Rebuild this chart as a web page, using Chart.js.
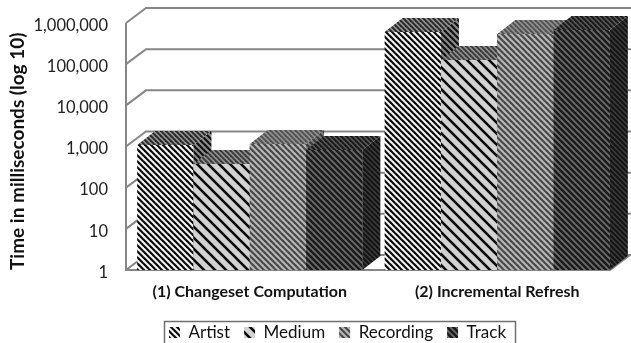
<!DOCTYPE html>
<html>
<head>
<meta charset="utf-8">
<script src="https://cdn.jsdelivr.net/npm/chart.js@4"></script>
<style>
html,body{margin:0;padding:0;background:#fff}
#wrap{position:relative;width:631px;height:343px}
</style>
</head>
<body>
<div id="wrap"><canvas id="c" width="631" height="343"></canvas></div>
<script>
const categories = ['(1) Changeset Computation', '(2) Incremental Refresh'];
const artist = [1090, 604000];
const medium = [376, 126000];
const recording = [1150, 539000];
const track = [822, 675000];
const tickValues = [1, 10, 100, 1000, 10000, 100000, 1000000];
const depthX = 18;
const depthY = 14;

// Diagonal hatch fill: one repeating tile of slanted stripes.
function hatch(period, stripe, bg, fg) {
  const t = document.createElement('canvas');
  t.width = period; t.height = period;
  const g = t.getContext('2d');
  g.fillStyle = bg; g.fillRect(0, 0, period, period);
  g.strokeStyle = fg; g.lineWidth = stripe; g.lineCap = 'square';
  for (let k = -1; k <= 1; k++) {
    g.beginPath();
    g.moveTo(k * period - 1, -1);
    g.lineTo(k * period + period + 1, period + 1);
    g.stroke();
  }
  return g.createPattern(t, 'repeat');
}
const ctx0 = document.getElementById('c').getContext('2d');
const fills = {
  Artist:    {front: hatch(6, 2.2, '#f6f6f6', '#0a0a0a'), top: hatch(5, 1.8, '#8f8f8f', '#262626'), side: hatch(6, 2.2, '#8c8c8c', '#101010')},
  Medium:    {front: hatch(11, 2.6, '#d2d2d2', '#0a0a0a'), top: hatch(5, 1.8, '#8f8f8f', '#383838'), side: hatch(6, 2.2, '#808080', '#2a2a2a')},
  Recording: {front: hatch(6, 2.2, '#b8b8b8', '#484848'), top: hatch(5, 1.8, '#909090', '#505050'), side: hatch(6, 2.2, '#7d7d7d', '#3a3a3a')},
  Track:     {front: hatch(6, 2.4, '#6c6c6c', '#1a1a1a'), top: hatch(5, 1.8, '#565656', '#161616'), side: hatch(5, 1.9, '#3a3a3a', '#121212')}
};

// Back wall, side wall and floor of the box, placed with the value scale.
const wallsPlugin = {
  id: 'walls',
  beforeDatasetsDraw(chart) {
    const g = chart.ctx, y = chart.scales.y, a = chart.chartArea;
    g.save();
    g.strokeStyle = '#868686'; g.lineWidth = 2;
    for (const v of tickValues) {
      const p = y.getPixelForValue(v);
      g.beginPath();
      g.moveTo(a.left, p);
      g.lineTo(a.left + 20, p - 15);
      g.lineTo(631, p - 15);
      g.stroke();
    }
    g.beginPath();
    g.moveTo(a.left, y.getPixelForValue(1e6));
    g.lineTo(a.left, a.bottom);
    g.lineTo(610, a.bottom);
    g.lineTo(630, a.bottom - 15);
    g.stroke();
    g.restore();
  },
  // Depth faces of each column, taken from the bar elements.
  afterDatasetsDraw(chart) {
    const g = chart.ctx;
    chart.data.datasets.forEach((ds, i) => {
      const f = fills[ds.label];
      chart.getDatasetMeta(i).data.forEach(bar => {
        const l = bar.x - bar.width / 2, r = bar.x + bar.width / 2, t = bar.y, b = bar.base;
        g.fillStyle = f.side;
        g.beginPath();
        g.moveTo(r, t); g.lineTo(r + depthX, t - depthY); g.lineTo(r + depthX, b - depthY); g.lineTo(r, b);
        g.closePath(); g.fill();
        g.fillStyle = f.top;
        g.beginPath();
        g.moveTo(l, t); g.lineTo(l + depthX, t - depthY); g.lineTo(r + depthX, t - depthY); g.lineTo(r, t);
        g.closePath(); g.fill();
      });
    });
    // Later columns sit in front of the side faces of earlier ones.
    chart.data.datasets.forEach((ds, i) => {
      if (i === 0) return;
      const f = fills[ds.label];
      chart.getDatasetMeta(i).data.forEach(bar => {
        g.fillStyle = f.front;
        g.fillRect(bar.x - bar.width / 2, bar.y, bar.width, bar.base - bar.y);
      });
    });
  }
};

// Moves the legend under the plot's centre and frames it.
const legendFrame = {
  id: 'legendFrame',
  afterLayout(chart) {
    const l = chart.legend;
    l.left += 27; l.right += 27;
    l.top = 310;
  },
  afterDraw(chart) {
    const g = chart.ctx;
    g.save();
    g.strokeStyle = '#6f6f6f'; g.lineWidth = 1.5;
    g.strokeRect(164.5, 321.5, 351, 26);
    g.restore();
  }
};

new Chart(ctx0, {
  type: 'bar',
  data: {
    labels: categories,
    datasets: [
      {label: 'Artist', data: artist, backgroundColor: fills.Artist.front},
      {label: 'Medium', data: medium, backgroundColor: fills.Medium.front},
      {label: 'Recording', data: recording, backgroundColor: fills.Recording.front},
      {label: 'Track', data: track, backgroundColor: fills.Track.front}
    ]
  },
  options: {
    responsive: false,
    animation: false,
    devicePixelRatio: 1,
    layout: {padding: {left: 0, right: 10, top: 23, bottom: -20}},
    datasets: {bar: {categoryPercentage: 0.91, barPercentage: 1, borderWidth: 0}},
    scales: {
      x: {
        grid: {display: false},
        border: {display: false},
        ticks: {color: '#111', font: {family: 'Lato', size: 16, weight: 'bold'}, padding: 4, maxRotation: 0},
        afterFit(s) { s.height = 93 - s.chart.legend.height; }
      },
      y: {
        type: 'logarithmic',
        min: 1,
        max: 1000000,
        afterBuildTicks(s) { s.ticks = tickValues.map(v => ({value: v})); },
        afterFit(s) { s.width = 126; },
        grid: {display: false},
        border: {display: false},
        ticks: {
          color: '#222',
          // A short blank first line sets the text slightly below its tick.
          font: {family: 'Lato', size: 16.5, lineHeight: '5px'},
          padding: 10,
          callback: v => ['', Number(v).toLocaleString('en-US')]
        },
        title: {display: true, align: 'start', text: 'Time in milliseconds (log 10)', color: '#111', font: {family: 'Lato', size: 19, weight: 'bold'}, padding: {top: 6, bottom: 0}}
      }
    },
    plugins: {
      tooltip: {enabled: false},
      legend: {
        position: 'bottom',
        labels: {boxWidth: 11, boxHeight: 11, padding: 14, color: '#111', font: {family: 'Lato', size: 17}}
      }
    }
  },
  plugins: [wallsPlugin, legendFrame]
});
</script>
</body>
</html>
